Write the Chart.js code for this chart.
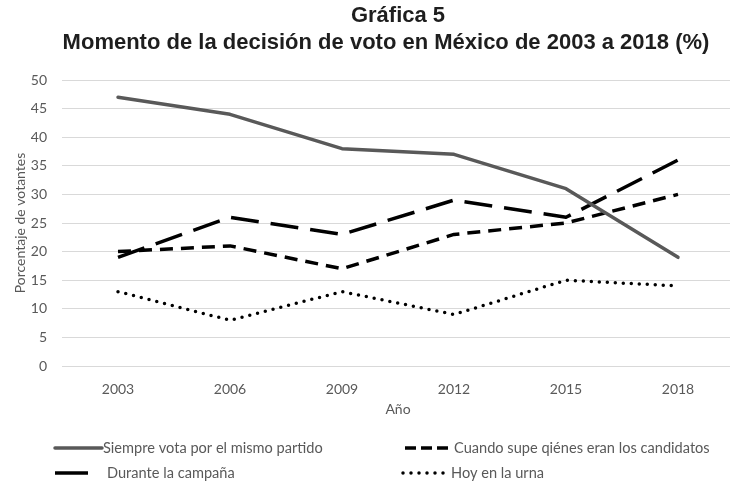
<!DOCTYPE html>
<html>
<head>
<meta charset="utf-8">
<script src="https://cdn.jsdelivr.net/npm/chart.js@4"></script>
<style>
  html, body { margin: 0; padding: 0; background: #fff; overflow: hidden; }
  #wrap { width: 740px; height: 481px; }
</style>
</head>
<body>
<div id="wrap"><canvas id="c" width="740" height="481"></canvas></div>
<script>
// Election years and vote-decision timing shares (%)
const years = ['2003', '2006', '2009', '2012', '2015', '2018'];
const siempre = [47, 44, 38, 37, 31, 19];
const cuando = [20, 21, 17, 23, 25, 30];
const durante = [19, 26, 23, 29, 26, 36];
const urna = [13, 8, 13, 9, 15, 14];
const yTicks = [0, 5, 10, 15, 20, 25, 30, 35, 40, 45, 50];

const titleLine1 = 'Gráfica 5';
const titleLine2 = 'Momento de la decisión de voto en México de 2003 a 2018 (%)';

const seriesNames = [
  'Siempre vota por el mismo partido',
  'Cuando supe qiénes eran los candidatos',
  'Durante la campaña',
  'Hoy en la urna'
];

const textFont = 'Lato, "Open Sans", sans-serif';

// Two-line heading above the plot
const headingPlugin = {
  id: 'heading',
  afterDraw(chart) {
    const ctx = chart.ctx;
    ctx.save();
    ctx.fillStyle = '#1e1e1e';
    ctx.font = 'bold 22px "Liberation Sans", Arial, sans-serif';
    ctx.textAlign = 'center';
    ctx.textBaseline = 'middle';
    ctx.fillText(titleLine1, 398, 16);
    ctx.fillText(titleLine2, 386, 43);
    ctx.restore();
  }
};

// Legend laid out in two rows, each sample drawn with its dataset's stroke
const legendPlugin = {
  id: 'twoRowLegend',
  afterDraw(chart) {
    const ctx = chart.ctx;
    const slots = [
      { i: 0, x0: 55, x1: 102, tx: 103, y: 448 },
      { i: 1, x0: 405, x1: 448, tx: 454, y: 448 },
      { i: 2, x0: 55, x1: 88, tx: 107, y: 473 },
      { i: 3, x0: 403, x1: 448, tx: 451, y: 473 }
    ];
    ctx.save();
    slots.forEach(s => {
      const ds = chart.data.datasets[s.i];
      ctx.beginPath();
      ctx.strokeStyle = ds.borderColor;
      ctx.lineWidth = ds.borderWidth;
      ctx.lineCap = ds.borderCapStyle || 'butt';
      ctx.setLineDash(ds.legendDash || []);
      ctx.moveTo(s.x0, s.y);
      ctx.lineTo(s.x1, s.y);
      ctx.stroke();
      ctx.setLineDash([]);
      ctx.fillStyle = '#595959';
      ctx.font = '14.6px ' + textFont;
      ctx.textAlign = 'left';
      ctx.textBaseline = 'middle';
      ctx.fillText(ds.label, s.tx, s.y);
    });
    ctx.restore();
  }
};

new Chart(document.getElementById('c'), {
  type: 'line',
  data: {
    labels: years,
    datasets: [
      {
        label: seriesNames[0], data: siempre,
        borderColor: '#595959', borderWidth: 3.5, borderCapStyle: 'round',
        legendDash: []
      },
      {
        label: seriesNames[1], data: cuando,
        borderColor: '#000000', borderWidth: 3.5, borderDash: [13, 8],
        legendDash: [11, 5]
      },
      {
        label: seriesNames[2], data: durante,
        borderColor: '#000000', borderWidth: 3.5, borderDash: [28, 12],
        legendDash: []
      },
      {
        label: seriesNames[3], data: urna,
        borderColor: '#000000', borderWidth: 3.5, borderDash: [0, 8],
        borderCapStyle: 'round', legendDash: [0, 8]
      }
    ]
  },
  options: {
    responsive: false,
    animation: false,
    devicePixelRatio: 1,
    layout: { padding: { top: 80, left: 0, right: 6, bottom: 0 } },
    elements: {
      point: { radius: 0, hoverRadius: 0 },
      line: { tension: 0, borderJoinStyle: 'round' }
    },
    plugins: {
      legend: { display: false },
      title: { display: false },
      tooltip: { enabled: false }
    },
    scales: {
      x: {
        offset: true,
        grid: { display: false, offset: true },
        border: { display: false },
        ticks: { color: '#595959', font: { family: textFont, size: 14 }, padding: 7 },
        title: {
          display: true, text: 'Año', color: '#595959',
          font: { family: textFont, size: 14 }, padding: { top: 0, bottom: 63 }
        },
        afterFit(scale) { scale.height = 115; }
      },
      y: {
        min: 0, max: 50,
        afterBuildTicks(scale) { scale.ticks = yTicks.map(v => ({ value: v })); },
        grid: { color: '#d9d9d9', lineWidth: 1, drawTicks: false },
        border: { display: false },
        ticks: { color: '#595959', font: { family: textFont, size: 14 }, padding: 15 },
        title: {
          display: true, text: 'Porcentaje de votantes', color: '#595959',
          font: { family: textFont, size: 14 }, padding: { top: 12, bottom: 0 }
        },
        afterFit(scale) { scale.width = 62; }
      }
    }
  },
  plugins: [headingPlugin, legendPlugin]
});
</script>
</body>
</html>
